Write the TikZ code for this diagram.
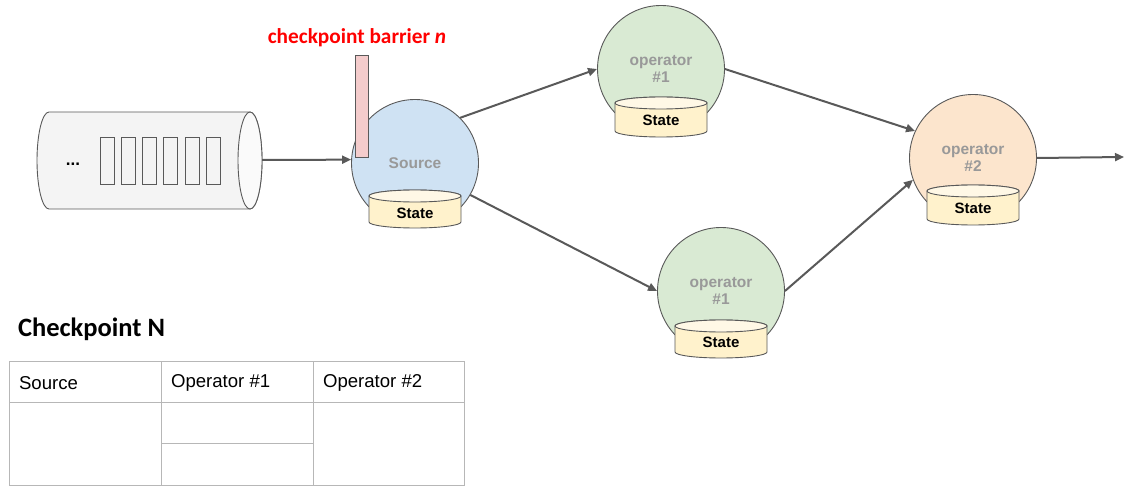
\documentclass[tikz,border=0pt]{standalone}
\usepackage{fontspec}
\setmainfont{Liberation Sans}
\newfontfamily\calfont{Carlito}
\usetikzlibrary{arrows.meta}
\definecolor{linegray}{HTML}{595959}
\definecolor{textgray}{HTML}{999999}
\definecolor{tablegray}{HTML}{B7B7B7}
\definecolor{srcblue}{HTML}{CFE2F3}
\definecolor{opgreen}{HTML}{D9EAD3}
\definecolor{oporange}{HTML}{FCE5CD}
\definecolor{dbyellow}{HTML}{FFF2CC}
\definecolor{barrierpink}{HTML}{F4CCCC}
\tikzset{
  opnode/.style={circle, draw=linegray, line width=0.9pt, minimum size=127pt, inner sep=0pt,
    font=\fontsize{15.5}{17}\selectfont\bfseries, text=textgray, align=center},
  flow/.style={draw=linegray, line width=2pt, -{Triangle[length=9pt,width=8pt]}},
  dbline/.style={draw=linegray, line width=0.9pt, fill=dbyellow},
  statetext/.style={font=\fontsize{15}{17}\selectfont\bfseries},
  cell/.style={anchor=west, font=\fontsize{18.6}{20}\selectfont}
}
% state store: centre x, top y, bottom y
\newcommand{\statedb}[3]{
  \draw[dbline] (#1-46,#2-6) -- (#1-46,#3+6) arc[start angle=180,end angle=360,x radius=46,y radius=6]
    -- (#1+46,#2-6) arc[start angle=0,end angle=180,x radius=46,y radius=6] -- cycle;
  \draw[dbline, fill=dbyellow!50] (#1,#2-6) ellipse [x radius=46, y radius=6];
}
\begin{document}
\begin{tikzpicture}[x=1pt, y=1pt]
  \useasboundingbox (0,0) rectangle (1131,493);
  % queue
  \draw[linegray, line width=0.9pt, fill=gray!9] (49,381) -- (250,381)
    arc[start angle=90,end angle=-90,x radius=12,y radius=48.5] -- (49,284)
    arc[start angle=270,end angle=90,x radius=12,y radius=48.5] -- cycle;
  \draw[linegray, line width=0.9pt, fill=gray!4] (250,332.5) ellipse [x radius=12, y radius=48.5];
  \foreach \i in {0,...,5}
    \draw[linegray, line width=0.9pt] (100+21.3*\i,309) rectangle +(14,47);
  \node[font=\fontsize{17}{18}\selectfont\bfseries] (dots) at (73,329) {...};
  \coordinate (qend) at (262,333);
  % operators
  \node[opnode, fill=srcblue] (src) at (415,330) {Source};
  \statedb{415}{303}{265}
  \node[statetext] at (415,280) {State};
  \node[opnode, fill=opgreen] (op1a) at (661,424) {operator\\\#1};
  \statedb{661}{396}{356}
  \node[statetext] at (661,373) {State};
  \node[opnode, fill=opgreen] (op1b) at (721,202) {operator\\\#1};
  \statedb{721}{173}{135}
  \node[statetext] at (721,151) {State};
  \node[opnode, fill=oporange] (op2) at (973,335) {operator\\\#2};
  \statedb{973}{308}{268}
  \node[statetext] at (973,285) {State};
  \coordinate (out) at (1124,336);
  % barrier
  \draw[linegray, line width=0.9pt, fill=barrierpink] (355,336) rectangle (368,438);
  \node[text=red, font=\calfont\fontsize{21.3}{23}\selectfont\bfseries] (barrier) at (357,455) {checkpoint barrier \textit{n}};
  % flows
  \draw[flow] (qend) -- (src.177);
  \draw[flow] (src.45) -- (op1a.180);
  \draw[flow] (src.-30) -- (op1b.180);
  \draw[flow] (op1a.0) -- (op2.155);
  \draw[flow] (op1b.0) -- (op2.200);
  \draw[flow] (op2.east) -- (out);
  % checkpoint table
  \node[anchor=west, font=\calfont\fontsize{26.5}{28}\selectfont\bfseries] (title) at (14.5,164) {Checkpoint N};
  \draw[tablegray, line width=0.9pt] (9,8) rectangle (464,132);
  \draw[tablegray, line width=0.9pt] (9,91) -- (464,91) (161,8) -- (161,132) (313,8) -- (313,132) (161,50) -- (313,50);
  \node[cell] (c1) at (15.5,110) {Source};
  \node[cell] (c2) at (167.5,110) {Operator \#1};
  \node[cell] (c3) at (319.5,110) {Operator \#2};
\end{tikzpicture}
\end{document}
